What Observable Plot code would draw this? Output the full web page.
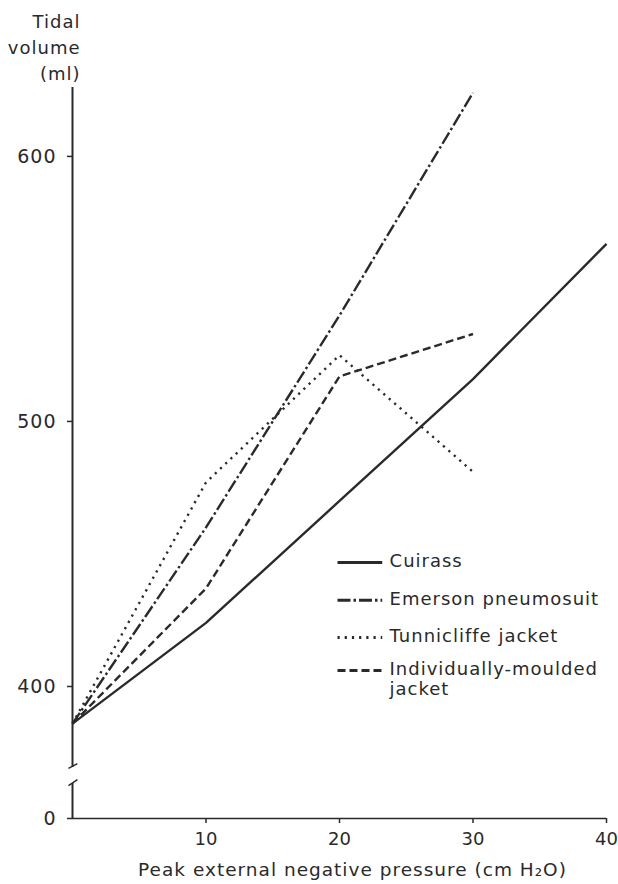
<!DOCTYPE html>
<html>
<head>
<meta charset="utf-8">
<script src="https://cdn.jsdelivr.net/npm/d3@7"></script>
<script src="https://cdn.jsdelivr.net/npm/@observablehq/plot@0.6"></script>
<style>
  html, body { margin: 0; padding: 0; background: #fff; }
  #chart svg { display: block; }
  #chart svg g[aria-label="x-axis tick label"] { letter-spacing: 0px; }
</style>
</head>
<body>
<div id="chart"></div>
<script>
// ---- data ----
const pressure = [0, 10, 20, 30, 40];
const cuirass = [386, 424, 470, 516, 567];
const emerson = [386, 460, 540, 624];
const tunnicliffe = [386, 477, 525, 481];
const moulded = [386, 437, 517, 533];
const seriesNames = ["Cuirass", "Emerson pneumosuit", "Tunnicliffe jacket", "Individually-moulded\njacket"];
const seriesValues = [cuirass, emerson, tunnicliffe, moulded];
const seriesDash = [null, "13,3,2.5,3", "2.2,5", "8,4"];
const yTicks = [0, 400, 500, 600];
const xTicks = [10, 20, 30, 40];
const legendY = [446.8, 432.5, 418.5, 406.0];

const ink = "#2a2a2a";
const rows = seriesValues.flatMap((vals, i) =>
  vals.map((v, j) => ({series: seriesNames[i], x: pressure[j], y: v})));

const lineMarks = seriesNames.map((name, i) =>
  Plot.line(rows.filter(d => d.series === name), {
    x: "x", y: "y", stroke: ink, strokeWidth: 2.4,
    strokeDasharray: seriesDash[i] || undefined, strokeLinecap: "butt"
  }));

const legend = seriesNames.map((name, i) => ({name, y: legendY[i], dash: seriesDash[i]}));
const legendMarks = legend.flatMap(d => [
  Plot.link([d], {x1: () => 19.85, x2: () => 23.2, y1: "y", y2: "y",
    stroke: ink, strokeWidth: 3, strokeDasharray: d.dash || undefined}),
  Plot.text([d], {x: () => 23.75, y: "y", text: "name", textAnchor: "start",
    lineAnchor: "top", dy: -10, fontSize: 18, lineHeight: 1.12, fill: ink})
]);

// y-axis line with a break
const axisSegments = [{y1: 369.4, y2: 626}, {y1: 0, y2: 363.4}];
const breakMarks = [
  {x1: -0.3, y1: 369.1, x2: 0.37, y2: 370.9},
  {x1: -0.3, y1: 362.6, x2: 0.37, y2: 364.9}
];

const chart = Plot.plot({
  width: 618,
  height: 884,
  marginLeft: 72,
  marginRight: 12,
  marginTop: 0,
  marginBottom: 66,
  style: {fontFamily: "'DejaVu Sans', sans-serif", letterSpacing: "1px", color: ink, background: "#fff"},
  x: {domain: [0, 40]},
  y: {type: "linear", domain: [0, 360, 626], range: [818, 792, 87]},
  marks: [
    Plot.ruleX(axisSegments, {x: () => 0, y1: "y1", y2: "y2", stroke: ink, strokeWidth: 2}),
    Plot.link(breakMarks, {x1: "x1", y1: "y1", x2: "x2", y2: "y2", stroke: ink, strokeWidth: 1.5}),
    Plot.ruleY([0], {stroke: ink, strokeWidth: 1.6}),
    Plot.axisY({ticks: yTicks, tickSize: 5, tickPadding: 11, fontSize: 19, label: null, stroke: ink, strokeWidth: 1.5}),
    Plot.axisX({ticks: xTicks, tickSize: 5, tickPadding: 9, fontSize: 18, label: null, stroke: ink, strokeWidth: 1.5}),
    Plot.text(["Peak external negative pressure (cm H₂O)"], {
      frameAnchor: "bottom", dx: 13, dy: 52, lineAnchor: "middle", fontSize: 18.5, fill: ink}),
    Plot.text(["Tidal\nvolume\n(ml)"], {
      frameAnchor: "top-left", dx: 8, dy: 9, textAnchor: "end", lineAnchor: "top",
      lineHeight: 1.45, fontSize: 18, fill: ink}),
    ...lineMarks,
    ...legendMarks
  ]
});
document.getElementById("chart").appendChild(chart);
</script>
</body>
</html>
